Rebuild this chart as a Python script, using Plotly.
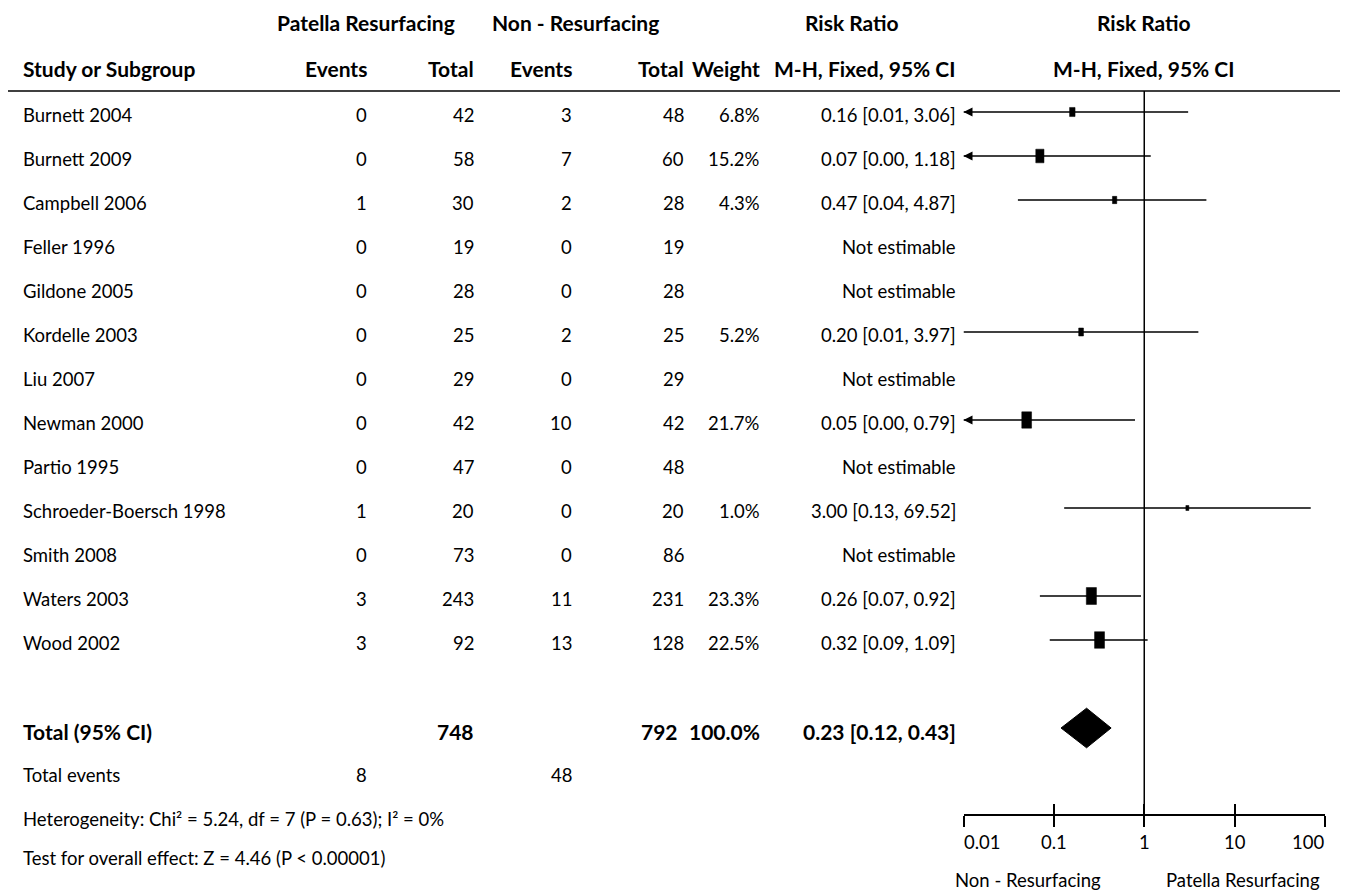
import math
import plotly.graph_objects as go

# ---- data -------------------------------------------------------------
studies = ["Burnett 2004", "Burnett 2009", "Campbell 2006", "Feller 1996", "Gildone 2005",
           "Kordelle 2003", "Liu 2007", "Newman 2000", "Partio 1995", "Schroeder-Boersch 1998",
           "Smith 2008", "Waters 2003", "Wood 2002"]
resurf_events = [0, 0, 1, 0, 0, 0, 0, 0, 0, 1, 0, 3, 3]
resurf_total = [42, 58, 30, 19, 28, 25, 29, 42, 47, 20, 73, 243, 92]
nonres_events = [3, 7, 2, 0, 0, 2, 0, 10, 0, 0, 0, 11, 13]
nonres_total = [48, 60, 28, 19, 28, 25, 29, 42, 48, 20, 86, 231, 128]
weight_pct = [6.8, 15.2, 4.3, None, None, 5.2, None, 21.7, None, 1.0, None, 23.3, 22.5]
risk_ratio = [0.16, 0.07, 0.47, None, None, 0.20, None, 0.05, None, 3.00, None, 0.26, 0.32]
ci_low = [0.01, 0.00, 0.04, None, None, 0.01, None, 0.00, None, 0.13, None, 0.07, 0.09]
ci_high = [3.06, 1.18, 4.87, None, None, 3.97, None, 0.79, None, 69.52, None, 0.92, 1.09]
# lower limit runs past the left end of the scale
extends_left = [True, True, False, False, False, False, False, True, False, False, False, False, False]

total_resurf, total_nonres = 748, 792
events_resurf, events_nonres = 8, 48
total_weight = 100.0
pooled_rr, pooled_low, pooled_high = 0.23, 0.12, 0.43
heterogeneity = "Heterogeneity: Chi² = 5.24, df = 7 (P = 0.63); I² = 0%"
overall_effect = "Test for overall effect: Z = 4.46 (P < 0.00001)"

scale_ticks = [0.01, 0.1, 1, 10, 100]
scale_labels = ["0.01", "0.1", "1", "10", "100"]
favours_left, favours_right = "Non - Resurfacing", "Patella Resurfacing"

# ---- page geometry (pixels) ---------------------------------------------
W, H = 1351, 892
ROW0, ROW_H = 112, 44          # first study row centre and row pitch
TEXT_DY = 3                    # text sits a little lower than the marks
AXIS_Y = 814                   # scale line
RULE_Y = 91                    # rule under the column headers
PLOT_L, PLOT_R = 963.5, 1325
FONT = "Lato"
FS = 18.5
FS_B = 21

log_range = [math.log10(scale_ticks[0]), math.log10(scale_ticks[-1])]
PX_PER_DECADE = (PLOT_R - PLOT_L) / (log_range[1] - log_range[0])


def row_of(py):
    return (py - ROW0) / ROW_H


def fx(px):
    return px / W


def fmt(v):
    return f"{v:.2f}"


fig = go.Figure()
lo_lim = scale_ticks[0]

# confidence interval lines
for i in range(len(studies)):
    if risk_ratio[i] is None:
        continue
    fig.add_trace(go.Scatter(
        x=[max(ci_low[i], lo_lim), ci_high[i]], y=[i, i], mode="lines",
        line=dict(color="black", width=1.4), hoverinfo="skip"))

# arrows where the interval leaves the scale
arrow_rows = [i for i in range(len(studies)) if extends_left[i]]
fig.add_trace(go.Scatter(
    x=[lo_lim] * len(arrow_rows), y=arrow_rows, mode="markers", cliponaxis=False,
    marker=dict(symbol="arrow-left", size=9, color="black", line=dict(width=0)),
    hoverinfo="skip"))

# study weight boxes (taller than wide), area growing with the weight
bx, by = [], []
for i in range(len(studies)):
    if risk_ratio[i] is None:
        continue
    w = weight_pct[i]
    half_h = max(3.5 * math.sqrt(w), 5) / 2 / ROW_H
    half_w = max(2.1 * math.sqrt(w), 3) / 2 / PX_PER_DECADE
    x0 = risk_ratio[i] / 10 ** half_w
    x1 = risk_ratio[i] * 10 ** half_w
    bx += [x0, x1, x1, x0, x0, None]
    by += [i - half_h, i - half_h, i + half_h, i + half_h, i - half_h, None]
fig.add_trace(go.Scatter(
    x=bx, y=by, mode="lines", fill="toself", fillcolor="black",
    line=dict(color="black", width=0.5), hoverinfo="skip"))

# pooled diamond
total_row = len(studies) + 1
half = 0.45
fig.add_trace(go.Scatter(
    x=[pooled_low, pooled_rr, pooled_high, pooled_rr, pooled_low],
    y=[total_row, total_row - half, total_row, total_row + half, total_row],
    mode="lines", fill="toself", fillcolor="black",
    line=dict(color="black", width=1), hoverinfo="skip"))

# line of no effect
fig.add_trace(go.Scatter(
    x=[1, 1], y=[row_of(RULE_Y), row_of(AXIS_Y)], mode="lines",
    line=dict(color="black", width=1.5), hoverinfo="skip"))

# empty traces so the scale axes get drawn
fig.add_trace(go.Scatter(x=[1], y=[0], xaxis="x2", yaxis="y2", mode="markers",
                         marker=dict(opacity=0), hoverinfo="skip"))
fig.add_trace(go.Scatter(x=[1], y=[0], xaxis="x3", yaxis="y2", mode="markers",
                         marker=dict(opacity=0), hoverinfo="skip"))

x_dom = [fx(PLOT_L), fx(PLOT_R)]
axis_common = dict(type="log", range=log_range, domain=x_dom, showgrid=False,
                   zeroline=False, fixedrange=True)
fig.update_layout(
    width=W, height=H, margin=dict(l=0, r=0, t=0, b=0),
    paper_bgcolor="white", plot_bgcolor="rgba(0,0,0,0)", showlegend=False,
    font=dict(family=FONT, size=FS, color="black"),
    xaxis=dict(**axis_common, visible=False, anchor="y"),
    yaxis=dict(range=[row_of(H), row_of(0)], domain=[0, 1], visible=False, anchor="x",
               fixedrange=True),
    # scale line with ticks below it ...
    xaxis2=dict(**axis_common, anchor="y2", showline=True, linecolor="black", linewidth=1.5,
                ticks="outside", ticklen=11, tickwidth=1.5, tickcolor="black",
                tickvals=scale_ticks, showticklabels=False),
    # ... and the upper half of the same ticks
    xaxis3=dict(**axis_common, anchor="y2", overlaying="x2", side="bottom",
                ticks="inside", ticklen=10, tickwidth=1.5, tickcolor="black",
                tickvals=scale_ticks, showticklabels=False, showline=False),
    yaxis2=dict(domain=[(H - AXIS_Y) / H, (H - AXIS_Y) / H + 0.01], range=[0, 1],
                visible=False, anchor="x2", fixedrange=True),
)

# header rule
fig.add_shape(type="line", xref="paper", yref="paper", x0=fx(8), x1=fx(1340),
              y0=1 - RULE_Y / H, y1=1 - RULE_Y / H, line=dict(color="black", width=1.6))


def text(s, px, row, anchor="left", bold=False, dy=TEXT_DY):
    fig.add_annotation(x=fx(px), y=row + dy / ROW_H, xref="paper", yref="y",
                       text=f"<b>{s}</b>" if bold else s, showarrow=False,
                       xanchor=anchor, yanchor="middle", borderpad=0,
                       font=dict(family=FONT, size=FS_B if bold else FS, color="black"))


# column anchors
C_NAME, C_EV1, C_TOT1, C_EV2, C_TOT2, C_W, C_RR = 22, 368, 475, 573, 685, 761, 957
C_PLOT = 1144

h1, h2 = row_of(22), row_of(68)
text("Patella Resurfacing", 366, h1, "center", True, 0)
text("Non - Resurfacing", 575, h1, "center", True, 0)
text("Risk Ratio", 852, h1, "center", True, 0)
text("Risk Ratio", C_PLOT, h1, "center", True, 0)
text("Study or Subgroup", C_NAME, h2, "left", True, 0)
text("Events", C_EV1, h2, "right", True, 0)
text("Total", C_TOT1, h2, "right", True, 0)
text("Events", C_EV2, h2, "right", True, 0)
text("Total", C_TOT2, h2, "right", True, 0)
text("Weight", C_W, h2, "right", True, 0)
text("M-H, Fixed, 95% CI", C_RR, h2, "right", True, 0)
text("M-H, Fixed, 95% CI", C_PLOT, h2, "center", True, 0)

for i, name in enumerate(studies):
    text(name, C_NAME, i)
    text(str(resurf_events[i]), C_EV1, i, "right")
    text(str(resurf_total[i]), C_TOT1, i, "right")
    text(str(nonres_events[i]), C_EV2, i, "right")
    text(str(nonres_total[i]), C_TOT2, i, "right")
    if risk_ratio[i] is None:
        text("Not estimable", C_RR, i, "right")
    else:
        text(f"{weight_pct[i]:.1f}%", C_W, i, "right")
        text(f"{fmt(risk_ratio[i])} [{fmt(ci_low[i])}, {fmt(ci_high[i])}]", C_RR, i, "right")

text("Total (95% CI)", C_NAME, total_row, "left", True)
text(str(total_resurf), C_TOT1, total_row, "right", True)
text(str(total_nonres), C_TOT2 - 6, total_row, "right", True)
text(f"{total_weight:.1f}%", C_W, total_row, "right", True)
text(f"{fmt(pooled_rr)} [{fmt(pooled_low)}, {fmt(pooled_high)}]", C_RR, total_row, "right", True)

ev_row = total_row + 1
text("Total events", C_NAME, ev_row)
text(str(events_resurf), C_EV1, ev_row, "right")
text(str(events_nonres), C_EV2, ev_row, "right")
text(heterogeneity, C_NAME, row_of(819), dy=0)
text(overall_effect, C_NAME, row_of(858), dy=0)

# scale labels: the end labels sit inside the scale ends
for v, lab in zip(scale_ticks, scale_labels):
    anchor = "left" if v == scale_ticks[0] else ("right" if v == scale_ticks[-1] else "center")
    fig.add_annotation(x=math.log10(v), y=1 - 842 / H, xref="x2", yref="paper", text=lab,
                       showarrow=False, xanchor=anchor, yanchor="middle", borderpad=0,
                       font=dict(family=FONT, size=FS, color="black"))

for lab, px in ((favours_left, 1028), (favours_right, 1243)):
    fig.add_annotation(x=fx(px), y=1 - 880 / H, xref="paper", yref="paper", text=lab,
                       showarrow=False, xanchor="center", yanchor="middle", borderpad=0,
                       font=dict(family=FONT, size=FS, color="black"))

fig.write_html("out.html")
